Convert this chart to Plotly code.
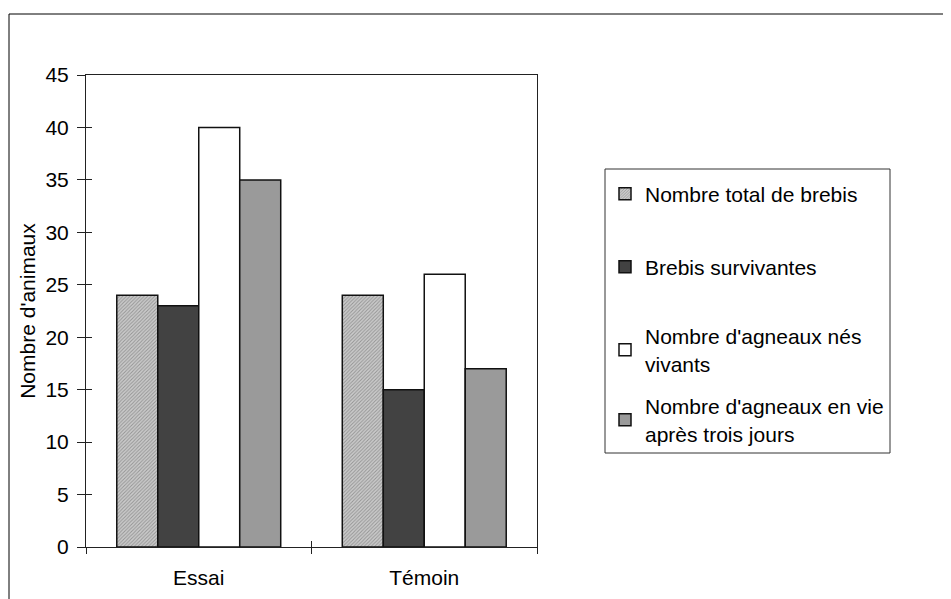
import plotly.graph_objects as go

categories = ["Essai", "Témoin"]
series_names = [
    "Nombre total de brebis",
    "Brebis survivantes",
    "Nombre d'agneaux nés<br>vivants",
    "Nombre d'agneaux en vie<br>après trois jours",
]
total_brebis = [24, 24]
brebis_survivantes = [23, 15]
agneaux_nes_vivants = [40, 26]
agneaux_vie_3j = [35, 17]
y_ticks = [0, 5, 10, 15, 20, 25, 30, 35, 40, 45]

# page body adds an 8px offset; figure coords = reference coords - 8
OFF = 8
W, H = 951 - OFF, 599 - OFF
L, R, T, B = 86 - OFF, 537 - OFF, 75 - OFF, 547 - OFF
FONT = "Liberation Sans, Arial, sans-serif"
FS = 21

def px_x(p):
    return (p - OFF - L) / (R - L)

def px_y(p):
    return (B - (p - OFF)) / (B - T)

fig = go.Figure()
series = [total_brebis, brebis_survivantes, agneaux_nes_vivants, agneaux_vie_3j]
colors = ["#c4c4c4", "#424242", "#ffffff", "#9a9a9a"]
legend_ids = ["legend", "legend2", "legend3", "legend4"]
for i, (name, vals) in enumerate(zip(series_names, series)):
    marker = dict(color=colors[i], line=dict(color="#111111", width=1.5))
    if i == 0:
        marker["pattern"] = dict(shape="/", fgcolor="#959595", bgcolor="#cccccc",
                                 size=2.5, solidity=0.4, fillmode="replace")
    fig.add_trace(go.Bar(x=categories, y=vals, name=name, marker=marker,
                         legend=legend_ids[i]))

# overlay axes to draw the inside half of crossing ticks
fig.add_trace(go.Scatter(x=[], y=[], xaxis="x2", yaxis="y2", showlegend=False,
                         hoverinfo="skip"))

fig.update_layout(
    width=W, height=H,
    margin=dict(l=L, r=W - R, t=T, b=H - B, autoexpand=False),
    paper_bgcolor="white", plot_bgcolor="white",
    font=dict(family=FONT, size=FS, color="black"),
    barmode="group", bargap=0.273, bargroupgap=0,
    xaxis=dict(type="category", showline=True, linecolor="#222222", linewidth=1,
               mirror=True, ticks="outside", ticklen=6, tickcolor="#222222",
               tickson="boundaries", showgrid=False, zeroline=False,
               ticklabelstandoff=12,
               tickfont=dict(size=FS, family=FONT)),
    yaxis=dict(range=[0, 45], tickvals=y_ticks, showline=True, linecolor="#222222",
               linewidth=1, mirror=True, ticks="outside", ticklen=8,
               tickcolor="#222222", showgrid=False, zeroline=False,
               ticklabelstandoff=4,
               tickfont=dict(size=FS, family=FONT),
               title=dict(text="Nombre d'animaux", font=dict(size=FS, family=FONT),
                          standoff=4)),
    xaxis2=dict(overlaying="x", anchor="y2", range=[-0.5, 1.5],
                tickvals=[-0.5, 0.5, 1.5], ticks="inside", ticklen=6,
                tickcolor="#222222", showticklabels=False, showline=False,
                showgrid=False, zeroline=False),
    yaxis2=dict(overlaying="y", anchor="x2", side="left", range=[0, 45],
                tickvals=y_ticks, ticks="inside", ticklen=6, tickcolor="#222222",
                showticklabels=False, showline=False, showgrid=False,
                zeroline=False),
    showlegend=True,
)

item_centers = [194, 267, 350, 420]
for lid, cy in zip(legend_ids, item_centers):
    fig.update_layout({lid: dict(xref="container", yref="container",
                                 x=(605 - OFF) / W, y=1 - (cy - OFF) / H,
                                 xanchor="left", yanchor="middle",
                                 bgcolor="rgba(0,0,0,0)", borderwidth=0,
                                 font=dict(size=FS, family=FONT, color="black"))})

# legend frame
fig.add_shape(type="rect", xref="paper", yref="paper",
              x0=px_x(605), x1=px_x(890), y0=px_y(453), y1=px_y(169),
              line=dict(color="#333333", width=1), fillcolor="rgba(0,0,0,0)",
              layer="above")
# outer chart frame (extends past window edge)
fig.add_shape(type="rect", xref="paper", yref="paper",
              x0=px_x(9), x1=px_x(1000), y0=px_y(650), y1=px_y(14),
              line=dict(color="black", width=1), fillcolor="rgba(0,0,0,0)",
              layer="below")

fig.write_html("out.html")
